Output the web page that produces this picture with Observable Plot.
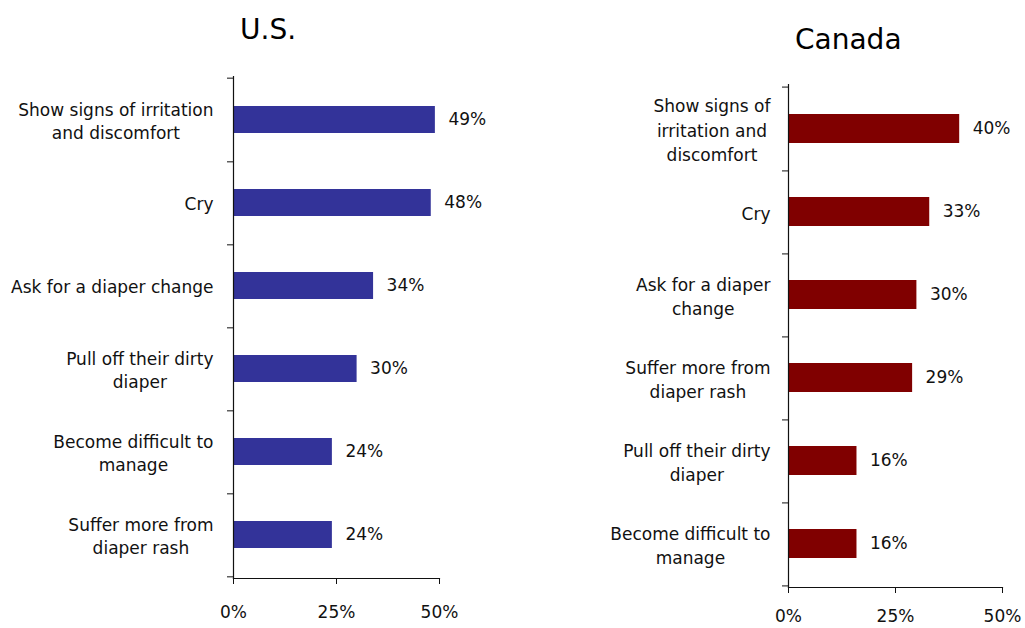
<!DOCTYPE html>
<html>
<head>
<meta charset="utf-8">
<script src="https://cdn.jsdelivr.net/npm/d3@7"></script>
<script src="https://cdn.jsdelivr.net/npm/@observablehq/plot@0.6"></script>
<style>
  html, body { margin: 0; padding: 0; background: #fff; }
  #wrap { position: relative; width: 1025px; height: 628px; overflow: hidden; font-family: "DejaVu Sans", sans-serif; color: #000; }
  .title { position: absolute; font-size: 28px; line-height: 1; white-space: nowrap; }
  .panel { position: absolute; }
</style>
</head>
<body>
<div id="wrap">
  <div class="title" id="t-us" style="left:240px; top:16px;">U.S.</div>
  <div class="title" id="t-ca" style="left:795px; top:26px;">Canada</div>
  <div class="panel" id="p-us" style="left:0px; top:60px;"></div>
  <div class="panel" id="p-ca" style="left:540px; top:60px;"></div>
</div>
<script>
// ---- Data ----
const usCategories = [
  "Show signs of irritation\nand discomfort",
  "Cry",
  "Ask for a diaper change",
  "Pull off their dirty\ndiaper",
  "Become difficult to\nmanage",
  "Suffer more from\ndiaper rash"
];
const usValues = [49, 48, 34, 30, 24, 24];

const caCategories = [
  "Show signs of\nirritation and\ndiscomfort",
  "Cry",
  "Ask for a diaper\nchange",
  "Suffer more from\ndiaper rash",
  "Pull off their dirty\ndiaper",
  "Become difficult to\nmanage"
];
const caValues = [40, 33, 30, 29, 16, 16];

const xTicks = [0, 25, 50];

// ---- Helpers ----
const FONT = "DejaVu Sans";
const FS = 17;
const ctx = document.createElement("canvas").getContext("2d");
ctx.font = `${FS}px "${FONT}"`;
function blockWidth(label) {
  return Math.max(...label.split("\n").map(l => ctx.measureText(l).width));
}

function panel(o) {
  const data = o.cats.map((c, i) => ({cat: c, v: o.vals[i]}));
  const step = (o.height - o.mt - o.mb) / o.cats.length;
  const labelMarks = o.cats.map(c =>
    Plot.text([c], {
      y: d => d, text: d => d, frameAnchor: "left", textAnchor: "middle",
      dx: -(o.gap + blockWidth(c) / 2), fontSize: FS, lineHeight: o.lh, fill: "#111"
    })
  );
  return Plot.plot({
    width: o.width, height: o.height,
    marginLeft: o.ml, marginRight: o.mr, marginTop: o.mt, marginBottom: o.mb,
    style: {fontFamily: FONT, fontSize: FS + "px", color: "#111", background: "transparent", overflow: "visible"},
    x: {domain: [0, 50], axis: null, label: null},
    y: {domain: o.cats, axis: null, label: null, paddingInner: o.pi, paddingOuter: o.pi / 2},
    marks: [
      Plot.barX(data, {y: "cat", x: "v", fill: o.color}),
      Plot.text(data, {y: "cat", x: "v", text: d => d.v + "%", textAnchor: "start", dx: 13, fontSize: FS, fill: "#111"}),
      ...labelMarks,
      Plot.frame({anchor: "left", stroke: "#111", strokeWidth: 1.2}),
      Plot.frame({anchor: "bottom", stroke: "#111", strokeWidth: 1.2}),
      Plot.axisY({tickSize: 6, tickFormat: () => "", label: null, dy: step / 2, stroke: "#111"}),
      Plot.axisY({ticks: [o.cats[0]], tickSize: 6, tickFormat: () => "", label: null, dy: -step / 2, stroke: "#111"}),
      Plot.axisX({ticks: xTicks, tickFormat: d => d + "%", label: null, tickSize: 6, tickPadding: o.tp, fontSize: FS, stroke: "#111", fill: "#111"})
    ]
  });
}

document.getElementById("p-us").append(panel({
  cats: usCategories, vals: usValues, color: "#333399",
  width: 520, height: 568, ml: 233, mr: 81, mt: 16, mb: 50,
  pi: 0.677, gap: 20, lh: 23 / 17, tp: 21
}));
document.getElementById("p-ca").append(panel({
  cats: caCategories, vals: caValues, color: "#800000",
  width: 485, height: 568, ml: 248, mr: 23, mt: 24, mb: 41,
  pi: 0.654, gap: 18, lh: 24.5 / 17, tp: 16
}));
</script>
</body>
</html>
